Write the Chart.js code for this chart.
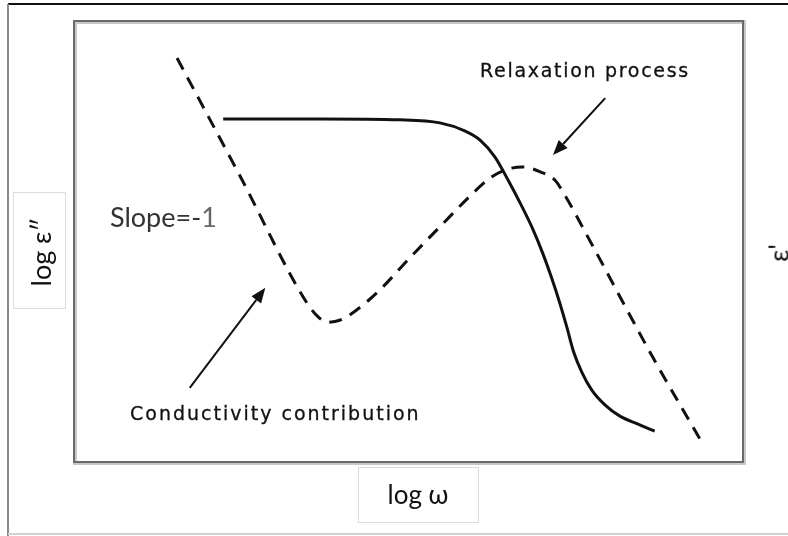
<!DOCTYPE html>
<html>
<head>
<meta charset="utf-8">
<script src="https://cdn.jsdelivr.net/npm/chart.js@4"></script>
<style>
  body { margin: 0; background: #fff; }
  #wrap { position: relative; width: 788px; height: 536px; overflow: hidden; }
  #grafico { position: absolute; left: 0; top: 0; }
  .caixa { position: absolute; border: 1px solid #dcdcdc; box-sizing: border-box; }
  .txt { position: absolute; color: #111; white-space: nowrap; }
  .calibri { font-family: Lato, "Open Sans", sans-serif; }
  .tahoma { font-family: "DejaVu Sans", sans-serif; }
</style>
</head>
<body>
<div id="wrap">
  <canvas id="grafico" width="788" height="536"></canvas>

  <!-- caixas dos eixos -->
  <div class="caixa" style="left:13px; top:192px; width:53px; height:117px;"></div>
  <div class="caixa" style="left:358px; top:467px; width:121px; height:56px;"></div>

  <div class="txt calibri" style="left:40px; top:252px; font-size:27px; transform: translate(-50%, -50%) rotate(-90deg);">log ε″</div>
  <div class="txt calibri" style="left:418px; top:494px; font-size:26px; transform: translate(-50%, -50%);">log ω</div>
  <div class="txt calibri" style="left:778px; top:253px; font-size:27px; transform: translate(-50%, -50%) rotate(-90deg);">ε'</div>

  <div class="txt calibri" style="left:110px; top:200px; font-size:27px; color:#333;">Slope=-<span style="color:#666">1</span></div>
  <div class="txt tahoma" style="left:480px; top:59px; font-size:19px; letter-spacing:1.7px; -webkit-text-stroke:0.3px #111;">Relaxation process</div>
  <div class="txt tahoma" style="left:130px; top:402px; font-size:19px; letter-spacing:2px; -webkit-text-stroke:0.3px #111;">Conductivity contribution</div>
</div>

<script>
// Dados (eixos esquemáticos, 0 a 10 em cada direção)

// ε' (linha cheia)
const xReal = [2.23, 3.68, 4.87, 5.47, 5.84, 6.07, 6.29, 6.49, 6.67, 6.85, 7.01, 7.14, 7.26, 7.37, 7.47, 7.59, 7.74, 7.94, 8.16, 8.43, 8.68];
const yReal = [7.78, 7.78, 7.76, 7.69, 7.51, 7.30, 6.92, 6.39, 5.87, 5.31, 4.72, 4.17, 3.61, 3.04, 2.49, 2.04, 1.63, 1.29, 1.04, 0.86, 0.70];

// ε'' (linha tracejada)
const xPerda = [1.54, 2.48, 3.48, 3.65, 3.78, 3.98, 4.20, 4.57, 5.02, 5.55, 5.92, 6.22, 6.44, 6.70, 6.97, 7.19, 7.31, 7.76, 8.65, 9.39];
const yPerda = [9.16, 6.49, 3.61, 3.29, 3.17, 3.22, 3.42, 3.90, 4.63, 5.46, 6.03, 6.44, 6.62, 6.69, 6.58, 6.39, 6.12, 4.88, 2.38, 0.43];

// setas das anotações: [cauda x, cauda y, ponta x, ponta y]
const setaRelaxacao = [7.94, 8.25, 7.16, 6.96];
const setaCondutividade = [1.73, 1.68, 2.86, 3.95];

const pontos = (xs, ys) => xs.map((x, i) => ({ x: x, y: ys[i] }));

function desenhaSeta(ctx, chart, s) {
    const sx = chart.scales.x, sy = chart.scales.y;
    const x0 = sx.getPixelForValue(s[0]), y0 = sy.getPixelForValue(s[1]);
    const x1 = sx.getPixelForValue(s[2]), y1 = sy.getPixelForValue(s[3]);
    const ang = Math.atan2(y1 - y0, x1 - x0);
    const cab = 15, larg = 6;
    const bx = x1 - cab * Math.cos(ang), by = y1 - cab * Math.sin(ang);
    ctx.strokeStyle = '#111';
    ctx.fillStyle = '#111';
    ctx.lineWidth = 2;
    ctx.beginPath();
    ctx.moveTo(x0, y0);
    ctx.lineTo(bx, by);
    ctx.stroke();
    ctx.beginPath();
    ctx.moveTo(x1, y1);
    ctx.lineTo(bx + larg * Math.sin(ang), by - larg * Math.cos(ang));
    ctx.lineTo(bx - larg * Math.sin(ang), by + larg * Math.cos(ang));
    ctx.closePath();
    ctx.fill();
}

// molduras e setas
const moldura = {
    id: 'moldura',
    beforeDraw(chart) {
        const ctx = chart.ctx;
        const a = chart.chartArea;
        ctx.save();
        // moldura externa
        ctx.lineWidth = 2;
        ctx.strokeStyle = '#111';
        ctx.beginPath(); ctx.moveTo(8, 4); ctx.lineTo(788, 4); ctx.stroke();
        ctx.strokeStyle = '#8a8a8a';
        ctx.beginPath(); ctx.moveTo(8, 4); ctx.lineTo(8, 536); ctx.stroke();
        ctx.strokeStyle = '#d0d0d0';
        ctx.beginPath(); ctx.moveTo(8, 534); ctx.lineTo(788, 534); ctx.stroke();
        // caixa do gráfico
        ctx.strokeStyle = '#c8c8c8';
        ctx.lineWidth = 4;
        ctx.strokeRect(a.left + 1, a.top + 1, a.right - a.left, a.bottom - a.top);
        ctx.strokeStyle = '#6a6a6a';
        ctx.lineWidth = 2;
        ctx.strokeRect(a.left, a.top, a.right - a.left, a.bottom - a.top);
        ctx.restore();
    },
    afterDatasetsDraw(chart) {
        const ctx = chart.ctx;
        ctx.save();
        desenhaSeta(ctx, chart, setaRelaxacao);
        desenhaSeta(ctx, chart, setaCondutividade);
        ctx.restore();
    }
};

new Chart(document.getElementById('grafico').getContext('2d'), {
    type: 'scatter',
    data: {
        datasets: [{
            label: "ε'",
            data: pontos(xReal, yReal),
            showLine: true,
            borderColor: '#111',
            borderWidth: 3,
            pointRadius: 0,
            cubicInterpolationMode: 'monotone'
        }, {
            label: "ε''",
            data: pontos(xPerda, yPerda),
            showLine: true,
            borderColor: '#111',
            borderWidth: 3,
            borderDash: [13, 9],
            pointRadius: 0,
            cubicInterpolationMode: 'monotone'
        }]
    },
    options: {
        responsive: false,
        devicePixelRatio: 1,
        animation: false,
        layout: { padding: { left: 74, top: 21, right: 45, bottom: 74 } },
        plugins: { legend: { display: false }, tooltip: { enabled: false } },
        scales: {
            x: { type: 'linear', min: 0, max: 10, display: false },
            y: { type: 'linear', min: 0, max: 10, display: false }
        }
    },
    plugins: [moldura]
});
</script>
</body>
</html>
